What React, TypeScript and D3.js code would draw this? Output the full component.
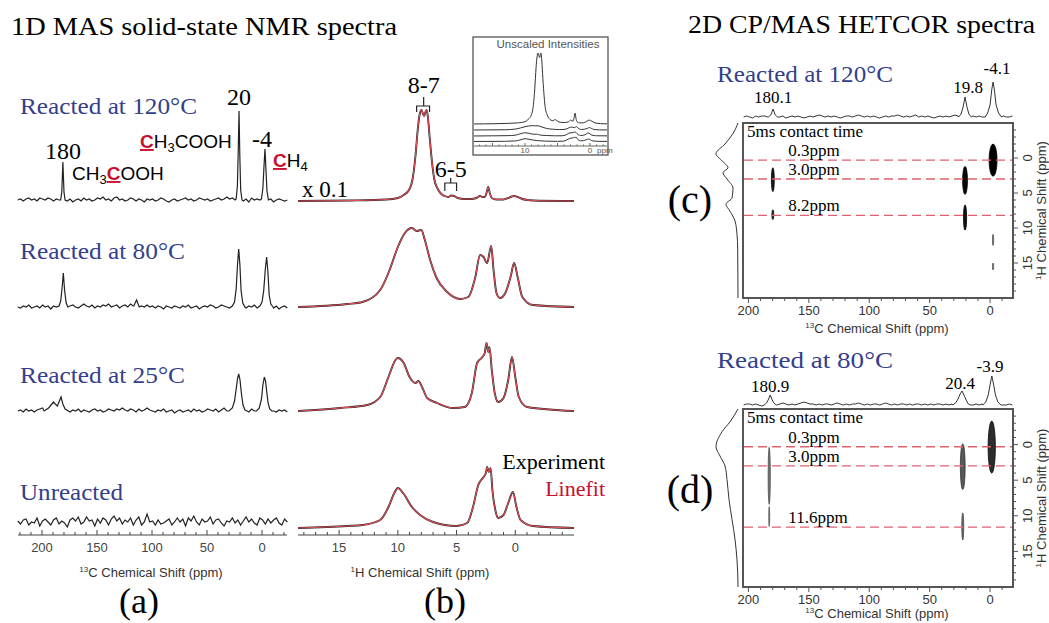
import * as d3 from "d3";

type Pt = [number, number];

const SERIF = "'Liberation Serif', 'Times New Roman', serif";
const SANS = "'Liberation Sans', Arial, sans-serif";
const BLUE = "#343f8c";
const RED = "#c8102e";
const FIT = "#e0505a";
const DASH = "#e0606e";

// (a) 13C MAS spectra: baseline sampled every 2.5 ppm from 222 ppm, peaks as [ppm, height]
const c13Start = 222;
const c13Step = 2.5;
const rowTitles = ["Reacted at 120°C", "Reacted at 80°C", "Reacted at 25°C", "Unreacted"];
const c13Ticks = [200, 150, 100, 50, 0];

const noise120 = [0,1,-1,1,2,0,1,-1,2,1, 0,2,1,-1,1,0,1,0,-1,1, -2,0,1,-1,2,0,1,-1,0,2, 1,3,0,1,-1,2,3,0,1,-1, 0,2,1,-1,1,0,-2,1,0,1, -1,0,2,1,-1,-2,0,1,-1,0, 1,2,0,1,-1,0,2,1,0,1, -1,0,1,2,0,1,3,1,2,0, 1,0,-1,1,-2,2,0,1,0,-1, 0,-1,1,-2,0,1,0,-1,0];
const noise80 = [0,-1,1,0,2,-1,0,1,-1,2, 0,1,-2,1,0,2,1,-1,0,1, 2,0,-1,1,3,1,0,2,-1,1, 0,2,1,3,0,1,2,-1,1,2, 0,3,1,2,-1,1,0,2,0,1, -1,1,0,-2,1,0,-1,1,0,-1, 1,0,2,-1,0,1,-2,0,1,0, 2,1,-1,0,2,1,0,-1,1,0, 2,1,0,-1,1,0,2,-1,0,1, -1,2,0,-1,1,-2,0,1,-1];
const noise25 = [0,1,-1,2,0,1,-1,1,2,3, 1,2,1,3,2,4,1,0,2,-1, 1,0,2,-1,1,0,-1,1,2,0, 1,-1,0,2,1,0,2,1,3,1, 0,2,1,-1,2,0,1,3,1,0, -1,1,0,2,-1,0,1,-2,0,1, -1,0,1,-1,2,0,1,-1,0,2, 1,0,2,-1,1,3,0,2,1,0, 1,2,0,1,-1,2,0,1,-1,0, 1,-1,2,0,-1,1,0,1,-1];
const noiseRaw = [2,-1,3,4,-2,1,0,5,-3,2, 4,1,-2,3,5,-1,2,0,-4,3, 5,2,6,-1,1,6,2,3,-3,4, 0,5,3,-2,4,7,2,5,-1,3, 1,5,-2,3,6,-2,1,9,1,2, -2,3,-1,0,2,4,-2,1,5,1, 4,-3,5,2,7,1,-2,4,1,2, 6,-1,3,4,0,-3,2,1,5,0, 3,-2,2,6,1,4,0,-2,5,3, -1,4,0,3,5,0,-2,4,1];

const peaks120: Pt[][] = [
  [[183,0],[182,8],[181,38],[180,8],[179,0]],
  [[23.5,1],[22.4,14],[21.6,50],[20.9,89],[20.2,45],[19.4,10],[18.2,0]],
  [[0.5,1],[-0.8,12],[-1.8,34],[-2.7,51],[-3.5,32],[-4.5,9],[-5.8,0]],
];
const peaks80: Pt[][] = [
  [[184.5,1],[183,6],[181.8,18],[180.6,34],[179.4,16],[178,4],[176.5,0]],
  [[116.5,1],[115,5],[114,7],[113,4],[111.5,0]],
  [[27,1],[25,5],[23.5,18],[22.3,42],[21.2,58],[20.1,42],[19,16],[17.5,4],[15.5,0]],
  [[2,1],[0,5],[-1.5,16],[-3,38],[-4.2,50],[-5.3,36],[-6.5,12],[-8,3],[-10,0]],
];
const peaks25: Pt[][] = [
  [[198,0],[194,3],[191,7],[189.5,9],[188,7],[186,5],[184.5,9],[182.7,14],[181,7],[179,2],[176,0]],
  [[30,0],[27,3],[25,10],[23.5,22],[22.2,33],[21.2,37],[20,31],[18.8,18],[17.3,6],[15.5,1],[13.5,0]],
  [[5,0],[2.5,3],[0.5,12],[-0.8,26],[-2.1,34],[-3.2,30],[-4.2,20],[-5.5,8],[-7,2],[-9,0]],
];

// (b) 1H MAS spectra, [ppm, intensity]
const h1Ticks = [15, 10, 5, 0];
const h1_120: Pt[] = [[18.5,0],[14,0.5],[11,1.5],[10,3],[9.5,6],[9,12],[8.7,25],[8.5,45],[8.3,72],[8.15,86],[8.0,91],[7.85,87],[7.75,85],[7.65,89],[7.55,91],[7.45,85],[7.3,65],[7.1,40],[6.9,22],[6.6,12],[6.3,7],[6.0,5],[5.7,4],[5.45,5.5],[5.2,5],[4.9,3],[4.3,2],[3.8,2],[3.3,3],[3.0,5],[2.8,4],[2.6,4],[2.45,8],[2.3,14],[2.15,7],[2.0,3],[1.6,1.5],[1.0,1.5],[0.6,3],[0.3,4.5],[0.1,5],[-0.2,4],[-0.6,2],[-1.2,0.8],[-2,0.3],[-5,0]];
const h1_80: Pt[] = [[18.5,0],[14.3,3],[13,5],[11.5,17],[10.7,37],[10.0,60],[9.4,74],[8.8,79],[8.4,76],[8.0,77],[7.7,67],[7.25,47],[6.7,29],[5.8,15],[4.7,8],[4.0,10],[3.4,30],[3.0,52],[2.7,50],[2.4,44],[2.05,61],[1.85,37],[1.6,14],[1.3,9],[0.85,14],[0.4,30],[0.1,44],[-0.2,30],[-0.6,10],[-1.5,2],[-5,0]];
const h1_25: Pt[] = [[18.5,0],[14.9,3],[12.6,6],[11.5,14],[10.8,34],[10.2,51],[10.0,53],[9.5,48],[9.0,34],[8.5,28],[8.25,30],[7.9,23],[7.5,13],[6.65,8],[5.3,3],[4.3,4],[3.7,18],[3.25,48],[2.8,54],[2.6,58],[2.45,68],[2.3,59],[2.2,64],[2.0,41],[1.75,18],[1.45,9],[1.0,13],[0.6,31],[0.28,54],[0,34],[-0.3,14],[-1.0,4],[-5,0]];
const h1_raw: Pt[] = [[18.5,0],[14.3,2],[13,3],[11.5,8],[10.8,21],[10.3,35],[10.0,40],[9.55,35],[8.8,21],[8.1,13],[7.0,6],[5.0,2],[4.1,5],[3.6,21],[3.15,43],[2.7,51],[2.5,55],[2.4,61],[2.25,56],[2.1,60],[1.95,38],[1.7,18],[1.45,10],[1.0,13],[0.6,25],[0.2,36],[-0.1,21],[-0.45,8],[-1.5,2],[-5,0]];
const insetGain = [0.78, 0.055, 0.06, 0.07];

// (c)/(d) 2D HETCOR: 13C projection baseline every 2.5 ppm from 204 ppm
const projStart = 204;
const projNoiseC = [0,1,0,-1,1,0,1,1,0,-1, 0,1,0,1,-1,0,1,0,1,0, -1,0,1,0,1,2,1,0,1,0, 1,0,-1,0,1,1,0,1,2,1, 0,1,0,1,0,-1,0,1,0,1, 1,2,1,0,1,0,1,2,0,1, 0,1,0,-1,0,1,0,1,0,1, 2,1,0,1,0,1,1,0,1,0, 1,0,1,0,-1,0,1,0,0,1];
const projNoiseD = [0,1,1,0,1,0,-1,0,1,0, 1,0,1,2,1,0,1,0,1,2, 3,2,1,1,0,1,0,1,1,0, 1,2,1,0,1,0,1,1,2,1, 0,1,0,1,1,0,1,2,1,0, 1,0,1,1,0,1,0,1,1,0, 1,0,1,0,1,1,0,1,0,1, 1,0,1,0,0,1,0,1,0,1, 0,1,0,1,0,1,0,0,1,0];
const projPeaksC: Pt[][] = [
  [[183.5,0],[181.5,2],[179.6,8],[177.8,2],[176,0]],
  [[26,0],[24,3],[22.3,10],[20.7,20],[19.1,10],[17.5,3],[15.5,0]],
  [[4,0],[2,4],[0,12],[-1.5,28],[-2.5,35],[-3.5,28],[-5,12],[-7,4],[-9.5,0]],
];
const projPeaksD: Pt[][] = [
  [[187,0],[185,2],[183.3,6],[182,10],[180.7,6],[179,2],[177,0]],
  [[31,0],[28.5,2],[26.5,6],[24.8,11],[23.2,14],[21.6,10],[19.8,5],[18,1],[16,0]],
  [[6,0],[3.5,3],[1.5,10],[-0.3,22],[-1.5,29],[-2.7,22],[-4.5,10],[-6.5,3],[-9,0]],
];
const peakLabelsC = ["180.1", "19.8", "-4.1"];
const peakLabelsD = ["180.9", "20.4", "-3.9"];
const leftProjC: Pt[] = [[-5,0],[-3.5,5],[-2,13],[-0.6,22],[0.4,16],[1.4,10],[2.1,15],[3,11],[4.3,5],[5.7,6],[6.6,12],[7.6,8],[9,3],[10.9,1],[13,0.3],[20,0]];
const leftProjD: Pt[] = [[-5,0],[-3.2,8],[-1.8,16],[0.3,22],[1.6,18],[3,13],[4.9,11],[7.7,9],[10.5,6],[13.3,3],[16.2,1],[18,0.3],[20,0]];
// contours: [13C ppm, 1H ppm, 13C half-width, 1H half-width, level]
const contoursC = [
  [-2.5, 0.3, 3.3, 2.3, 1.0],
  [20.7, 3.2, 2.0, 2.0, 0.95],
  [20.7, 8.5, 1.3, 1.8, 0.9],
  [179.8, 3.1, 1.2, 1.7, 0.85],
  [179.8, 8.1, 0.8, 0.7, 0.7],
  [-2.5, 11.7, 0.5, 0.8, 0.3],
  [-2.5, 15.5, 0.5, 0.5, 0.3],
];
const contoursD = [
  [-1.4, 0.35, 3.0, 3.65, 0.75],
  [22.6, 3.1, 2.0, 3.2, 0.5],
  [22.6, 11.5, 0.8, 1.9, 0.4],
  [182.8, 4.4, 0.9, 4.0, 0.35],
  [182.8, 10.1, 0.4, 1.4, 0.3],
];
const dashC = [0.3, 3.0, 8.2];
const dashD = [0.3, 3.0, 11.6];
const hetcorTicks13 = [200, 150, 100, 50, 0];
const hetcorTicks1 = [0, 5, 10, 15];

function merge(noise: number[], start: number, step: number, peaks: Pt[][]): Pt[] {
  let pts: Pt[] = noise.map((v, i) => [start - i * step, v] as Pt);
  peaks.forEach(seg => {
    const [lo, hi] = d3.extent(seg, d => d[0]) as [number, number];
    pts = pts.filter(p => p[0] < lo || p[0] > hi).concat(seg);
  });
  return pts.sort((a, b) => b[0] - a[0]);
}

function Hetcor({top, bottom, projBase, title, titleY, noise, peaks, labels, labelPos, contours, dashes, left, tag, tagY}: any) {
  const x = d3.scaleLinear([204.5, -19], [743, 1013]);
  const y = d3.scaleLinear([-5, 20], [top, bottom]);
  const proj = merge(noise, projStart, c13Step, peaks);
  const projLine = d3.line<Pt>(d => x(d[0]), d => projBase - d[1]);
  const leftLine = d3.line<Pt>(d => 738 - d[1], d => y(d[0])).curve(d3.curveMonotoneY);
  const shade = d3.scaleLinear([0, 1], ["#b0b0b0", "#000"]);
  return (
    <g>
      <text x={717} y={titleY} fontFamily={SERIF} fontSize={24} fill={BLUE} textLength={176} lengthAdjust="spacingAndGlyphs">{title}</text>
      <path d={projLine(proj) ?? ""} fill="none" stroke="#333" strokeWidth={1} />
      {labels.map((t: string, i: number) => (
        <text key={t} x={x(labelPos[i][0])} y={projBase - labelPos[i][1]} textAnchor="middle" fontFamily={SERIF} fontSize={17}>{t}</text>
      ))}
      <path d={leftLine(left) ?? ""} fill="none" stroke="#333" strokeWidth={1} />
      <rect x={743} y={top} width={270} height={bottom - top} fill="none" stroke="#555" strokeWidth={2} />
      <text x={747} y={top + 14} fontFamily={SERIF} fontSize={17}>5ms contact time</text>
      {contours.map((c: number[], i: number) => (
        <ellipse key={i} cx={x(c[0])} cy={y(c[1])} rx={Math.abs(x(c[2]) - x(0))} ry={y(c[3]) - y(0)}
          fill={shade(c[4])} stroke={shade(Math.min(1, c[4] + 0.2))} strokeWidth={0.8} />
      ))}
      {dashes.map((v: number) => (
        <g key={v}>
          <line x1={744} x2={1012} y1={y(v)} y2={y(v)} stroke={DASH} strokeWidth={1.3} strokeDasharray="9,5" />
          <text x={x(167)} y={y(v) - 4} fontFamily={SERIF} fontSize={17}>{`${v.toFixed(1)}ppm`}</text>
        </g>
      ))}
      {d3.range(200, -20, -10).map(t => (
        <line key={t} x1={x(t)} x2={x(t)} y1={bottom} y2={bottom + (t % 50 === 0 ? 5 : 3)} stroke="#555" />
      ))}
      {hetcorTicks13.map(t => (
        <text key={t} x={x(t)} y={bottom + 17} textAnchor="middle" fontFamily={SANS} fontSize={13} fill="#333">{t}</text>
      ))}
      <text x={877} y={Math.min(bottom + 35, 618)} textAnchor="middle" fontFamily={SANS} fontSize={13} fill="#333">
        <tspan fontSize={8} dy={-5}>13</tspan><tspan dy={5}>C Chemical Shift (ppm)</tspan>
      </text>
      {d3.range(-4, 20, 1).map(t => (
        <line key={t} x1={1013} x2={1013 + (t % 5 === 0 ? 5 : 3)} y1={y(t)} y2={y(t)} stroke="#555" />
      ))}
      {hetcorTicks1.map(t => (
        <text key={t} transform={`translate(1032,${y(t)}) rotate(-90)`} textAnchor="middle" fontFamily={SANS} fontSize={13} fill="#333">{t}</text>
      ))}
      <text transform={`translate(1046,${(top + bottom) / 2}) rotate(-90)`} textAnchor="middle" fontFamily={SANS} fontSize={13} fill="#333">
        <tspan fontSize={8} dy={-5}>1</tspan><tspan dy={5}>H Chemical Shift (ppm)</tspan>
      </text>
      <text x={690} y={tagY} textAnchor="middle" fontFamily={SERIF} fontSize={40}>{tag}</text>
    </g>
  );
}

export default function App() {
  const xA = d3.scaleLinear([221.8, -22.7], [18, 287]);
  const baseA = [200, 307, 411, 523];
  const tracesA = [
    merge(noise120, c13Start, c13Step, peaks120),
    merge(noise80, c13Start, c13Step, peaks80),
    merge(noise25, c13Start, c13Step, peaks25),
    merge(noiseRaw, c13Start, c13Step, []),
  ];
  const titleY = [114, 259, 383, 500];

  const xB = d3.scaleLinear([18.5, -5], [298, 574]);
  const baseB = [201, 307, 411, 528];
  const tracesB = [h1_120, h1_80, h1_25, h1_raw];

  const xI = d3.scaleLinear([10, 0], [525, 590]);
  const baseI = [124, 130, 136, 141.5];

  const axisY = 535;

  return (
    <svg width={1049} height={623} style={{position: "absolute", left: 0, top: 0, background: "#fff"}}>
      <defs>
        <clipPath id="insetClip"><rect x={474} y={38} width={133} height={116} /></clipPath>
      </defs>
      <text x={11} y={35} fontFamily={SERIF} fontSize={25} textLength={386} lengthAdjust="spacingAndGlyphs">1D MAS solid-state NMR spectra</text>
      <text x={688} y={33} fontFamily={SERIF} fontSize={25} textLength={347} lengthAdjust="spacingAndGlyphs">2D CP/MAS HETCOR spectra</text>

      {/* (a) 13C */}
      {tracesA.map((tr, i) => {
        const y = d3.scaleLinear([0, 100], [baseA[i], baseA[i] - 100]);
        const line = d3.line<Pt>(d => xA(d[0]), d => y(d[1]));
        return (
          <g key={i}>
            <path d={line(tr) ?? ""} fill="none" stroke="#222" strokeWidth={1.2} />
            <text x={20} y={titleY[i]} fontFamily={SERIF} fontSize={24} fill={BLUE} textLength={i === 3 ? 103 : i === 0 ? 177 : 165} lengthAdjust="spacingAndGlyphs">{rowTitles[i]}</text>
          </g>
        );
      })}
      <text x={xA(181)} y={159} textAnchor="middle" fontFamily={SERIF} fontSize={24}>180</text>
      <text x={xA(21)} y={105} textAnchor="middle" fontFamily={SERIF} fontSize={24}>20</text>
      <text x={xA(0)} y={147} textAnchor="middle" fontFamily={SERIF} fontSize={24}>-4</text>
      <text x={72} y={180} fontFamily={SANS} fontSize={19}>
        CH<tspan dy={4} fontSize={13}>3</tspan><tspan dy={-4} fill={RED} fontWeight="bold" style={{textDecoration: "underline"}}>C</tspan>OOH
      </text>
      <text x={140} y={148} fontFamily={SANS} fontSize={19}>
        <tspan fill={RED} fontWeight="bold" style={{textDecoration: "underline"}}>C</tspan>H<tspan dy={4} fontSize={13}>3</tspan><tspan dy={-4}>COOH</tspan>
      </text>
      <text x={273} y={167} fontFamily={SANS} fontSize={19}>
        <tspan fill={RED} fontWeight="bold" style={{textDecoration: "underline"}}>C</tspan>H<tspan dy={4} fontSize={13}>4</tspan>
      </text>
      <line x1={18} x2={287} y1={axisY} y2={axisY} stroke="#444" strokeWidth={1} />
      {d3.range(220, -30, -10).map(t => (
        <line key={t} x1={xA(t)} x2={xA(t)} y1={axisY} y2={axisY - (t % 50 === 0 ? 5 : 3)} stroke="#444" />
      ))}
      {c13Ticks.map(t => (
        <text key={t} x={xA(t)} y={552} textAnchor="middle" fontFamily={SANS} fontSize={13} fill="#444">{t}</text>
      ))}
      <text x={151} y={577} textAnchor="middle" fontFamily={SANS} fontSize={13} fill="#333">
        <tspan fontSize={8} dy={-5}>13</tspan><tspan dy={5}>C Chemical Shift (ppm)</tspan>
      </text>
      <text x={139} y={613} textAnchor="middle" fontFamily={SERIF} fontSize={36}>(a)</text>

      {/* (b) 1H */}
      {tracesB.map((tr, i) => {
        const y = d3.scaleLinear([0, 100], [baseB[i], baseB[i] - 100]);
        const line = d3.line<Pt>(d => xB(d[0]), d => y(d[1])).curve(d3.curveMonotoneX);
        return (
          <g key={i}>
            <path d={line(tr) ?? ""} fill="none" stroke="#222" strokeWidth={1.9} />
            <path d={line(tr) ?? ""} fill="none" stroke={FIT} strokeWidth={1.1} />
          </g>
        );
      })}
      <text x={302} y={197} fontFamily={SERIF} fontSize={23}>x 0.1</text>
      <text x={xB(7.8)} y={93} textAnchor="middle" fontFamily={SERIF} fontSize={24}>8-7</text>
      <path d={`M${xB(7.8)},97V106M${xB(8.4)},112V106H${xB(7.3)}V112`} fill="none" stroke="#222" strokeWidth={1.2} />
      <text x={xB(5.5)} y={177} textAnchor="middle" fontFamily={SERIF} fontSize={24}>6-5</text>
      <path d={`M${xB(5.5)},178V183M${xB(6.0)},191V183H${xB(5.0)}V191`} fill="none" stroke="#222" strokeWidth={1.2} />
      <text x={605} y={469} textAnchor="end" fontFamily={SERIF} fontSize={22}>Experiment</text>
      <text x={605} y={496} textAnchor="end" fontFamily={SERIF} fontSize={22} fill={RED}>Linefit</text>
      <line x1={298} x2={574} y1={axisY} y2={axisY} stroke="#444" strokeWidth={1} />
      {d3.range(18, -5, -1).map(t => (
        <line key={t} x1={xB(t)} x2={xB(t)} y1={axisY} y2={axisY - (t % 5 === 0 ? 5 : 3)} stroke="#444" />
      ))}
      {h1Ticks.map(t => (
        <text key={t} x={xB(t)} y={552} textAnchor="middle" fontFamily={SANS} fontSize={13} fill="#444">{t}</text>
      ))}
      <text x={420} y={577} textAnchor="middle" fontFamily={SANS} fontSize={13} fill="#333">
        <tspan fontSize={8} dy={-5}>1</tspan><tspan dy={5}>H Chemical Shift (ppm)</tspan>
      </text>
      <text x={445} y={613} textAnchor="middle" fontFamily={SERIF} fontSize={36}>(b)</text>

      {/* inset */}
      <rect x={473} y={37} width={135} height={118} fill="#fff" stroke="#555" strokeWidth={1.3} />
      <text x={548} y={48} textAnchor="middle" fontFamily={SANS} fontSize={11.5} fill="#555">Unscaled Intensities</text>
      <g clipPath="url(#insetClip)">
        {tracesB.map((tr, i) => {
          const line = d3.line<Pt>(d => xI(d[0]), d => baseI[i] - d[1] * insetGain[i]).curve(d3.curveMonotoneX);
          return <path key={i} d={line(tr) ?? ""} fill="none" stroke="#333" strokeWidth={1} />;
        })}
      </g>
      <line x1={474} x2={607} y1={146} y2={146} stroke="#666" />
      {d3.range(17, -3, -1).map(t => (
        <line key={t} x1={xI(t)} x2={xI(t)} y1={146} y2={146 - (t % 5 === 0 ? 3 : 1.5)} stroke="#666" />
      ))}
      <text x={xI(10)} y={153} textAnchor="middle" fontFamily={SANS} fontSize={8} fill="#555">10</text>
      <text x={xI(0)} y={153} textAnchor="middle" fontFamily={SANS} fontSize={8} fill="#555">0</text>
      <text x={597} y={153} fontFamily={SANS} fontSize={8} fill="#555">ppm</text>

      {/* (c) and (d) */}
      <Hetcor top={123} bottom={298} projBase={117} title="Reacted at 120°C" titleY={82}
        noise={projNoiseC} peaks={projPeaksC} labels={peakLabelsC}
        labelPos={[[179.6, 14], [18.2, 24], [-5.8, 43]]}
        contours={contoursC} dashes={dashC} left={leftProjC} tag="(c)" tagY={213} />
      <Hetcor top={409} bottom={587} projBase={405} title="Reacted at 80°C" titleY={368}
        noise={projNoiseD} peaks={projPeaksD} labels={peakLabelsD}
        labelPos={[[182, 13], [24.8, 16], [0, 33]]}
        contours={contoursD} dashes={dashD} left={leftProjD} tag="(d)" tagY={503} />
    </svg>
  );
}
